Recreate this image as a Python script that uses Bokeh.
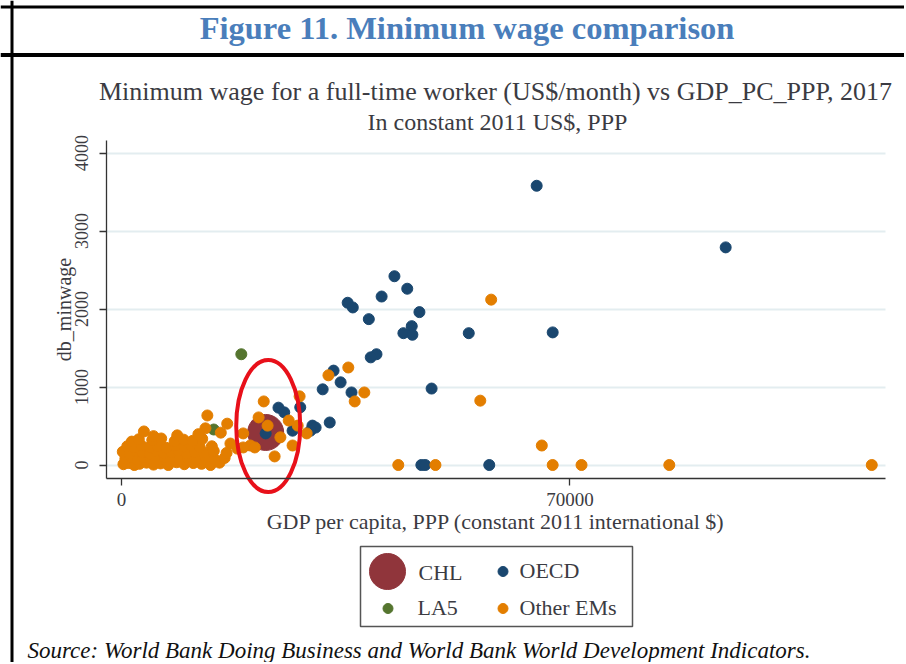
from bokeh.plotting import figure
from bokeh.models import (Range1d, FixedTicker, Label, Span, Legend, LegendItem,
                          BoxAnnotation, Grid)
from bokeh.embed import file_html
from bokeh.resources import INLINE

# ---------------- data ----------------
x_ticks = [0, 70000]
y_ticks = [0, 1000, 2000, 3000, 4000]

chl_gdp = [22500]
chl_wage = [417]

la5_gdp = [18700, 14400, 12000, 9500]
la5_wage = [1420, 455, 240, 160]

oecd_gdp = [64800, 94300, 42600, 44600, 40600, 35300, 36100, 46500, 38600, 44000,
            45300, 45400, 54200, 67300, 39800, 38900, 33100, 34200, 31400, 35900,
            48400, 32500, 29800, 30300, 29500, 24500, 25400, 27900, 22500, 26700,
            46800, 47400, 57400]
oecd_wage = [3580, 2790, 2420, 2260, 2160, 2080, 2020, 1960, 1870, 1690,
             1780, 1670, 1690, 1700, 1420, 1380, 1210, 1060, 970, 930,
             980, 545, 505, 480, 440, 735, 675, 740, 405, 440,
             0, 0, 0]

oth_gdp = [57700, 35400, 32300, 37900, 36400, 56000, 65600, 28900, 27800, 22200,
           21400, 26100, 22800, 27500, 24800, 26700, 23900, 13400, 16500, 13100,
           15500, 19000, 20100, 20800, 19000, 18100, 17000,
           43200, 49000, 67300, 71800, 85500, 117100,
           # dense low-income cluster
           300, 1100, 2000, 2800, 3900, 5000, 6100, 7300, 8600, 9800, 11200, 12500, 13900, 15300,
           600, 1600, 2500, 3400, 4500, 5600, 6700, 7800, 9100, 10300, 11700, 13100, 14500, 16100,
           200, 1300, 2300, 3300, 4400, 5500, 6600, 7800, 8900, 10200, 11400, 12800, 14400, 16400,
           900, 2000, 3100, 4400, 5600, 7000, 8400, 9800, 10900, 12200, 14100,
           1600, 2700, 4800, 6200, 8300, 9700, 11100, 12600,
           3500, 5000, 8700, 12000]
oth_wage = [2120, 1250, 1150, 930, 815, 825, 250, 405, 880, 815,
            610, 570, 505, 505, 355, 250, 110, 635, 530, 470,
            415, 405, 250, 225, 225, 210, 275,
            0, 0, 0, 0, 0, 0,
            10, 25, 0, 15, 30, 5, 20, 0, 35, 10, 25, 15, 0, 30,
            80, 95, 70, 100, 85, 75, 105, 90, 70, 95, 80, 100, 75, 90,
            170, 150, 180, 160, 145, 175, 155, 165, 185, 150, 170, 160, 180, 155,
            240, 225, 250, 230, 245, 220, 255, 235, 250, 230, 240,
            300, 330, 320, 340, 305, 325, 310, 335,
            430, 370, 380, 395]

highlight_x = [22900]
highlight_y = [500]

# ---------------- layout helpers (page pixel -> data) ----------------
W, H = 904, 662
OX, OY = 0, 0


def X(px):
    return (px - 121.0) * 1000.0 / 6.407


def Y(py):
    return (464.5 - py) * 1000.0 / 78.0


SERIF = "Liberation Serif"
TXT = "#3b3b42"

p = figure(width=W, height=H, output_backend="svg", toolbar_location=None, title=None,
           x_range=Range1d(X(OX), X(OX + W)), y_range=Range1d(Y(OY + H), Y(OY)),
           min_border=0, border_fill_color="white", background_fill_color="white",
           outline_line_color=None)

# ---------------- axes ----------------
xa = p.xaxis[0]
ya = p.yaxis[0]
xa.fixed_location = Y(478)
xa.bounds = (X(106), X(885))
xa.ticker = FixedTicker(ticks=x_ticks)
ya.fixed_location = X(106)
ya.bounds = (Y(478), Y(140))
ya.ticker = FixedTicker(ticks=y_ticks)

for ax in (xa, ya):
    ax.axis_line_color = "#333333"
    ax.axis_line_width = 1.3
    ax.major_tick_line_color = "#333333"
    ax.major_tick_line_width = 1.3
    ax.major_tick_out = 7
    ax.major_tick_in = 0
    ax.minor_tick_line_color = None
    ax.major_label_text_font = SERIF
    ax.major_label_text_color = TXT
    ax.axis_label_text_font = SERIF
    ax.axis_label_text_color = TXT
    ax.axis_label_text_font_style = "normal"

xa.axis_label = "GDP per capita, PPP (constant 2011 international $)"
xa.axis_label_text_font_size = "22px"
xa.major_label_text_font_size = "19px"
xa.major_label_standoff = 7
xa.axis_label_standoff = 0

ya.axis_label = "db_minwage"
ya.axis_label_text_font_size = "20px"
ya.major_label_text_font_size = "18px"
ya.major_label_orientation = "parallel"
ya.major_label_standoff = 12
ya.axis_label_standoff = -3

# ---------------- grid ----------------
p.xgrid.visible = False
if "cross_bounds" in Grid.properties():
    p.ygrid.ticker = FixedTicker(ticks=y_ticks)
    p.ygrid.cross_bounds = (X(106), X(885))
    p.ygrid.grid_line_color = "#E3EDF0"
    p.ygrid.grid_line_width = 2
else:
    p.ygrid.visible = False
    p.segment(x0=[X(106)] * len(y_ticks), x1=[X(885)] * len(y_ticks), y0=y_ticks, y1=y_ticks,
              line_color="#E3EDF0", line_width=2, level="underlay")

# ---------------- data marks ----------------
r_chl = p.scatter(chl_gdp, chl_wage, size=36, marker="circle", color="#90353B")
r_la5 = p.scatter(la5_gdp, la5_wage, size=11, marker="circle", color="#55752F")
r_oecd = p.scatter(oecd_gdp, oecd_wage, size=11, marker="circle", color="#1A476F")
r_oth = p.scatter(oth_gdp, oth_wage, size=11, marker="circle", color="#E37E00")

p.ellipse(x=highlight_x, y=highlight_y, width=64, height=132, width_units="screen",
          height_units="screen", fill_color=None, line_color="#E8101A", line_width=4)

# ---------------- legend ----------------
p.add_layout(BoxAnnotation(left=X(360), right=X(632), top=Y(546), bottom=Y(626),
                           fill_color=None, fill_alpha=0, line_color="#555555",
                           line_width=1.5, line_alpha=1))


def mk_legend(label, rend, gx, gy, gw, gh, standoff):
    # gx, gy: page coords of glyph centre
    left = gx - gw / 2.0
    bottom = gy + gh / 2.0
    leg = Legend(items=[LegendItem(label=label, renderers=[rend])],
                 location=(left - OX, (OY + H) - bottom),
                 glyph_width=gw, glyph_height=gh, label_standoff=standoff,
                 padding=0, margin=0, spacing=0,
                 border_line_alpha=0, background_fill_alpha=0,
                 label_text_font=SERIF, label_text_font_size="22px",
                 label_text_color=TXT)
    p.add_layout(leg)


# the large CHL swatch needs a big glyph box, so its text is placed separately
mk_legend(" ", r_chl, 387, 571, 90, 90, 0)
p.add_layout(Label(x=X(418), y=Y(572), text="CHL", text_align="left", text_baseline="middle",
                   text_font=SERIF, text_font_size="22px", text_color=TXT))
mk_legend("OECD", r_oecd, 502, 571, 25, 30, 5)
mk_legend("LA5", r_la5, 387, 607.5, 25, 30, 18)
mk_legend("Other EMs", r_oth, 502, 607.5, 25, 30, 5)

# ---------------- frame lines & texts ----------------
p.add_layout(Span(location=Y(6.5), dimension="width", line_color="black", line_width=3))
p.add_layout(Span(location=Y(54.5), dimension="width", line_color="black", line_width=4))
p.add_layout(Span(location=X(11.5), dimension="height", line_color="black", line_width=3))

p.add_layout(Label(x=X(466.5), y=Y(27.5), text="Figure 11. Minimum wage comparison",
                   text_align="center", text_baseline="middle", text_font=SERIF,
                   text_font_style="bold", text_font_size="32.5px", text_color="#4A7EBB"))
p.add_layout(Label(x=X(495), y=Y(91),
                   text="Minimum wage for a full-time worker (US$/month) vs GDP_PC_PPP, 2017",
                   text_align="center", text_baseline="middle", text_font=SERIF,
                   text_font_size="26px", text_color=TXT))
p.add_layout(Label(x=X(497), y=Y(121), text="In constant 2011 US$, PPP",
                   text_align="center", text_baseline="middle", text_font=SERIF,
                   text_font_size="24px", text_color=TXT))
p.add_layout(Label(x=X(27), y=Y(650),
                   text="Source: World Bank Doing Business and World Bank World Development Indicators.",
                   text_align="left", text_baseline="middle", text_font=SERIF,
                   text_font_style="italic", text_font_size="23px", text_color="#111111"))

open("out.html", "w").write(file_html(p, INLINE))
